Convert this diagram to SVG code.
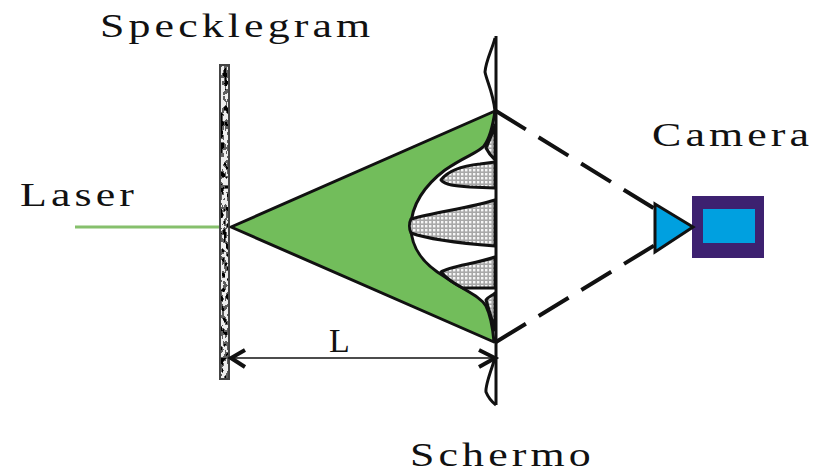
<svg xmlns="http://www.w3.org/2000/svg" width="827" height="473" viewBox="0 0 827 473">
<defs>
<pattern id="dots" width="4" height="4" patternUnits="userSpaceOnUse"><rect width="4" height="4" fill="#a8a8a8"/><rect x="1" y="1" width="2.4" height="2.4" fill="#f6f6f6"/></pattern>
<filter id="noise" x="0" y="0" width="100%" height="100%"><feTurbulence type="fractalNoise" baseFrequency="0.25 0.14" numOctaves="2" seed="7"/><feColorMatrix type="matrix" values="0 0 0 0 0 0 0 0 0 0 0 0 0 0 0 2.2 2.2 0 0 -1.85"/><feComponentTransfer><feFuncA type="discrete" tableValues="0 0.6 1"/></feComponentTransfer></filter>
</defs>
<style>
.t{font-family:"Liberation Serif",serif;font-size:34px;fill:#111;letter-spacing:3.2px}
.k{fill:none;stroke:#111;stroke-width:3}
.d{fill:none;stroke:#111;stroke-width:4;stroke-dasharray:35 15}
.l{fill:url(#dots);stroke:#111;stroke-width:3;stroke-linejoin:round}
</style>
<rect width="827" height="473" fill="#fff"/>
<g id="laser"><path d="M75 227H224" stroke="#86c06c" stroke-width="3"/><text class="t" transform="translate(20 206) scale(1.29 1)">Laser</text></g>
<g id="specklegram"><rect x="220" y="65" width="9" height="314" fill="#eee"/><rect x="220" y="65" width="9" height="314" filter="url(#noise)"/><rect x="220" y="65" width="9" height="314" fill="none" stroke="#444" stroke-width="2"/><text class="t" transform="translate(100 37) scale(1.29 1)">Specklegram</text></g>
<g id="beam">
<path d="M231 227L495 111C493 125 490 138 484 146C478 153 465 156 445 170C425 185 411 205 411 227C411 250 425 265 445 277C465 291 480 296 486 306C491 316 493 330 494 342Z" fill="#72bd5b" stroke="#111" stroke-width="3" stroke-linejoin="round"/>
</g>
<g id="pattern">
<path class="l" d="M441 180C447 172 460 166 480 164L495 162V188L470 187C455 186 445 185 441 180Z"/>
<path class="l" d="M411 219C435 212 470 208 495 200V246C470 244 430 240 411 233C409 229 409 223 411 219Z"/>
<path class="l" d="M441 272C450 266 475 264 495 257V288H463C455 284 447 279 441 272Z"/>
<path class="l" d="M486 148C489 141 492 135 495 125V160C491 156 488 152 486 148Z"/>
<path class="l" d="M486 300C489 296 492 296 495 293V330C492 320 489 310 486 300Z"/>
</g>
<g id="schermo"><path d="M496 36V405" stroke="#111" stroke-width="3"/><path class="k" d="M495 38C492 50 486 60 485 72C487 82 493 92 495 111"/><path class="k" d="M495 358C492 368 485 385 486 392C488 397 492 402 496 405"/><text class="t" transform="translate(410 466) scale(1.29 1)">Schermo</text></g>
<g id="camera"><rect x="692" y="196" width="72" height="62" fill="#3d2170"/><rect x="703" y="209" width="52" height="34" fill="#00a0e0"/><path d="M655 204L693 227L655 252Z" fill="#00a0e0" stroke="#111" stroke-width="3"/><text class="t" transform="translate(652 146) scale(1.29 1)">Camera</text></g>
<g id="connectors">
<path class="d" d="M496 111L655 209"/><path class="d" d="M496 342L655 245"/>
<path d="M231 358H495" stroke="#111" stroke-width="1.5"/>
<path d="M245 350L231 358L245 367M479 350L495 358L479 367" fill="none" stroke="#111" stroke-width="4"/>
<text class="t" x="329" y="352" style="letter-spacing:0">L</text>
</g>
</svg>
